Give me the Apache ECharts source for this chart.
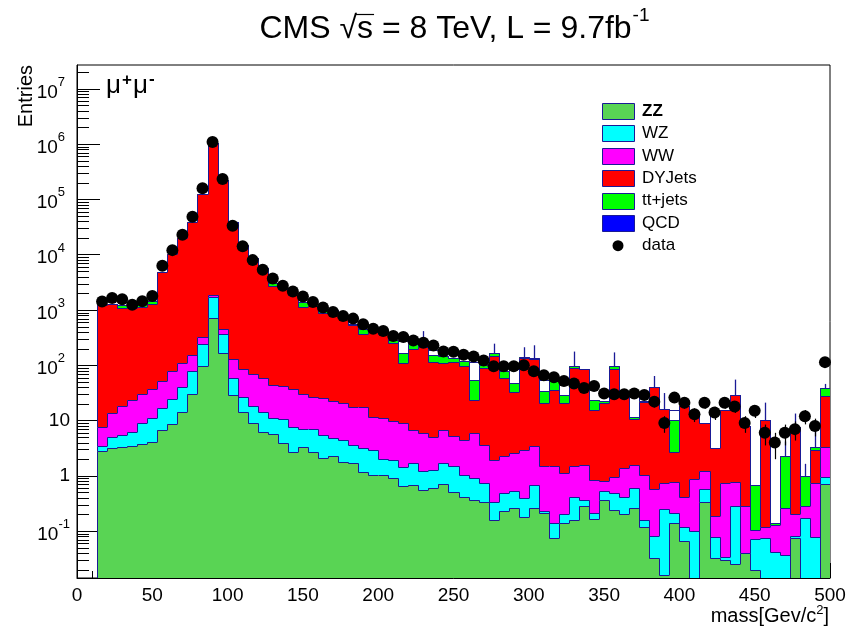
<!DOCTYPE html>
<html>
<head>
<meta charset="utf-8">
<script src="https://cdn.jsdelivr.net/npm/echarts@6/dist/echarts.min.js"></script>
<style>
  html, body { margin: 0; padding: 0; background: #ffffff; }
  #chart { width: 861px; height: 627px; }
</style>
</head>
<body>
<div id="chart"></div>
<script>
// Dimuon invariant mass, 75 bins of 20/3 GeV between 0 and 500; first filled bin is #2.
const BIN_WIDTH = 500 / 75;
const FIRST_BIN = 2;
const Y_MIN = 0.0142;
const Y_MAX = 2.7e7;

// Per-process MC contributions per bin (bins 2..74)
const zz = [2.87,3.25,3.39,3.53,3.79,4.07,6.8,8.6,14.5,30,99,730,170,29,14.5,9.2,6.2,5.75,3.9,2.75,
  3.39,2.75,2.08,2.3,1.81,1.69,1.15,1.04,1.04,0.91,
  0.66,0.69,0.56,0.6,0.72,0.52,0.42,0.37,0.34,0.16,
  0.23,0.26,0.18,0.26,0.21,0.075,0.14,0.16,0.28,0.164,
  0.37,0.24,0.2,0.26,0.117,0.033,0.016,0.138,0.067,0,
  0.33,0.032,0.03,0.025,0.04,0.0197,0,0,0,0.074,
  0,0,0.72];
const wz = [0.66,1.89,2.11,2.77,5.41,6.93,9.9,16.1,25.5,50,145,1010,200,29,12.5,9.2,8.3,5.25,6.7,5.05,
  3.61,4.25,3.42,2.5,2.67,1.95,2.01,1.91,0.96,1.04,
  0.78,1.05,0.64,0.68,0.97,0.96,0.62,0.54,0.4,0.18,
  0.26,0.28,0.21,0.43,0.02,0.065,0.06,0.26,0.09,0.052,
  0.17,0.25,0.22,0.35,0.042,0.048,0.232,0.072,0.053,0.1,
  0.24,0.047,0.004,0.255,0,0.051,0.074,0.042,0.037,0.006,
  0.17,0.079,0.23];
const ww = [3.97,8.46,12.9,17.7,20.8,26,36.3,55.3,70,74,76,110,80,71,59,51.6,43.5,33,32.4,29.2,
  23,20,19.9,18.2,16.7,14.3,14.7,8.85,9,8.05,
  7.56,5.06,4.7,3.86,5.11,3.82,3.44,5.16,2.9,1.61,
  1.81,2.1,2.56,2.8,1.25,1.34,0.92,1.08,1.21,0.634,
  0.28,0.48,0.96,0.97,0.88,0.49,0.51,0.58,0.3,0.77,
  0.63,0.111,0.708,0.49,0.24,0.034,0.046,0.087,0.222,0.12,
  0.116,0.66,2.35];
const dyjets = [1222,1256,1072,1066,1120,1263,4847,10170,19690,39446,125680,1048150,228550,38371,14814,8500,5582,2706,2357,1793,
  1120,1173,846,927,719,517,354,388,359,246,
  102,193,210,110,104,111,91.5,17.9,84.4,144,
  56.7,29.9,134,126.5,19.4,34.9,19.8,88.5,82.4,14.95,
  20.1,83,28.6,9.2,20.4,39.4,15.4,1.86,17.6,11.1,
  7.8,3.0,14.6,28.7,7.57,0,10.28,0,0,7.6,
  0,2.22,25];
const ttjets = [30,30,150,60,120,180,30,50,50,100,100,200,100,80,60,50,50,350,80,50,
  250,60,159,38,19,15,87,20,40,34,
  55,38,6,39,34,20,23,30,12,23,
  19,14.5,3,4,14,15,8.6,9,2,8.2,
  1.4,12,1,0.6,1.6,1,0,7.75,0,0,
  0,0,0,0,0,0.585,0,0.013,1.98,0,
  0.714,0.34,10.7];
const qcd = [0,0,0,0,0,0,0,0,0,0,0,0,0,0,0,0,0,0,0,0,
  0,0,0,0,0,0,0,0,0,0,
  114,0,0,36,0,0,0,61,0,0,
  0,37,0,0,20,0,15.5,0,0,0,
  0,0,0,18.1,0,0,0,5.4,0,0,
  0,12.6,0,0,0,0,0,0,0,0,
  0,0,0];

// MC statistical uncertainty on the full stack (bins 2..74)
const stackErr = [0,0,0,0,0,0,0,0,0,0,0,0,0,0,0,0,0,0,0,0,
  0,0,0,0,0,0,0,0,107,0,
  0,0,193,0,0,0,0,0,0,77,
  0,0,72,96,0,0,0,78,0,0,
  0,75,0,0,0,23,15.3,0,0,0,
  0,0,0,25.6,0,0,10.7,0,1.94,5.6,
  0.65,3.73,7];

// Observed events per bin (bins 2..74)
const observed = [1420,1650,1560,1250,1440,1790,6290,12100,23000,48700,160000,1090000,235000,33500,14200,7980,5320,3720,2750,2150,
  1750,1400,1105,920,778,698,550,459,416,337,
  324,282,256,229,178,176,155,144,122,96,
  96,96,100,78,66,61,52,47,39,42,
  31,30,30,31,29,22,9,26,21,13,
  21,14,21,18,9,15,6,4,6,7,
  12,8,114];

const processNames = ['ZZ', 'WZ', 'WW', 'DYJets', 'tt+jets', 'QCD'];
const processValues = [zz, wz, ww, dyjets, ttjets, qcd];
const processColors = ['#59d454', '#00ffff', '#ff00ff', '#ff0000', '#00ff00', '#0000ff'];
const OUTLINE = '#1a1a96';
const FONT = '"Liberation Sans", Arial, Helvetica, sans-serif';

// Running sums: each layer of the stack is drawn from the axis floor to its cumulative top
const cumulative = [];
processValues.forEach((vals, k) => {
  cumulative.push(vals.map((v, i) => (k > 0 ? cumulative[k - 1][i] : 0) + v));
});
const TOP_LAYER = processNames.length - 1;

function binEdges(i) {
  const b = FIRST_BIN + i;
  return [b * BIN_WIDTH, (b + 1) * BIN_WIDTH];
}

function stackSeries(k) {
  const tops = cumulative[k];
  const data = tops.map((top, i) => {
    const [lo, hi] = binEdges(i);
    const prev = i > 0 ? tops[i - 1] : Y_MIN;
    const err = k === TOP_LAYER ? stackErr[i] : 0;
    return [lo, hi, Math.max(top, Y_MIN), Math.max(prev, Y_MIN), err];
  });
  const fill = processNames[k] === 'QCD' ? null : processColors[k];
  const lastIndex = data.length - 1;
  return {
    type: 'custom',
    name: processNames[k],
    clip: true,
    z: 2,
    encode: { x: [0, 1], y: [2, 3] },
    data: data,
    renderItem: function (params, api) {
      const xl = api.value(0), xr = api.value(1), top = api.value(2), err = api.value(4);
      const a = api.coord([xl, top]);
      const b = api.coord([xr, Y_MIN]);
      const p = api.coord([xl, api.value(3)]);
      const x0 = Math.round(a[0]), x1 = Math.round(b[0]);
      const yt = Math.round(a[1]), yb = Math.round(b[1]), yp = Math.round(p[1]);
      const kids = [];
      if (fill && yb > yt) {
        kids.push({ type: 'rect', shape: { x: x0, y: yt, width: x1 - x0, height: yb - yt },
          style: { fill: fill } });
      }
      const pts = [[x0 + 0.5, yp + 0.5], [x0 + 0.5, yt + 0.5], [x1 + 0.5, yt + 0.5]];
      if (params.dataIndex === lastIndex) pts.push([x1 + 0.5, yb + 0.5]);
      kids.push({ type: 'polyline', shape: { points: pts },
        style: { stroke: OUTLINE, lineWidth: 1, fill: null } });
      if (err > 0) {
        const xc = Math.round((x0 + x1) / 2) + 0.5;
        const up = api.coord([xl, top + err])[1];
        const dn = api.coord([xl, Math.max(top - err, Y_MIN)])[1];
        kids.push({ type: 'line', shape: { x1: xc, y1: up, x2: xc, y2: dn },
          style: { stroke: OUTLINE, lineWidth: 1.3 } });
      }
      return { type: 'group', children: kids };
    }
  };
}

// Minor ticks of the log axis at 2..9 x 10^n
const minorTickValues = [];
for (let e = -2; e <= 7; e++) {
  for (let m = 2; m <= 9; m++) {
    const v = m * Math.pow(10, e);
    if (v > Y_MIN && v < Y_MAX) minorTickValues.push(v);
  }
}

const series = [];
for (let k = TOP_LAYER; k >= 0; k--) series.push(stackSeries(k));

series.push({
  type: 'custom',
  name: 'minorTicks',
  silent: true,
  z: 5,
  clip: false,
  data: minorTickValues.map(v => [0, v]),
  encode: { x: 0, y: 1 },
  renderItem: function (params, api) {
    const p = api.coord([0, api.value(1)]);
    const y = Math.round(p[1]) + 0.5;
    const x = Math.round(p[0]);
    return { type: 'line', shape: { x1: x, y1: y, x2: x + 12, y2: y },
      style: { stroke: '#000', lineWidth: 1 } };
  }
});

const dataPoints = observed.map((v, i) => {
  const [lo, hi] = binEdges(i);
  return [(lo + hi) / 2, v];
});

// Poisson uncertainty of the observed counts
series.push({
  type: 'custom',
  name: 'dataErrors',
  silent: true,
  z: 5,
  clip: true,
  data: dataPoints.map(d => [d[0], d[1], Math.sqrt(d[1])]),
  encode: { x: 0, y: 1 },
  renderItem: function (params, api) {
    const x = api.value(0), v = api.value(1), e = api.value(2);
    const up = api.coord([x, v + e]);
    const dn = api.coord([x, Math.max(v - e, Y_MIN)]);
    const xc = Math.round(up[0]) + 0.5;
    return { type: 'line', shape: { x1: xc, y1: up[1], x2: xc, y2: dn[1] },
      style: { stroke: '#000', lineWidth: 1.2 } };
  }
});

series.push({
  type: 'scatter',
  name: 'data',
  z: 6,
  symbol: 'circle',
  symbolSize: 12,
  itemStyle: { color: '#000', opacity: 1 },
  emphasis: { disabled: true },
  data: dataPoints
});

function supLabel(v) {
  const e = Math.round(Math.log10(v));
  if (e === 0) return '1';
  if (e === 1) return '10';
  return '{b|10}{' + (e < 0 ? 'supn' : 'sup') + '|' + e + '}';
}

// Measure text to place superscripts and the radical bar
const measureCtx = document.createElement('canvas').getContext('2d');
function textWidth(str, size, weight) {
  measureCtx.font = (weight ? weight + ' ' : '') + size + 'px ' + FONT;
  return measureCtx.measureText(str).width;
}
function txt(x, y, text, size, weight, align) {
  return { type: 'text', x: x, y: y,
    style: { text: text, font: (weight ? weight + ' ' : '') + size + 'px ' + FONT, fill: '#000',
      textAlign: align || 'left', textVerticalAlign: 'middle' } };
}

const graphics = [];

// Title: CMS sqrt(s) = 8 TeV, L = 9.7 fb^-1
(function () {
  const size = 32, supSize = 19, mid = 29;
  const parts = ['CMS ', '\u221A', 's', ' = 8 TeV, L = 9.7fb'];
  const widths = parts.map(p => textWidth(p, size));
  const supW = textWidth('-1', supSize);
  const total = widths.reduce((a, b) => a + b, 0) + supW;
  const x = 454 - total / 2;
  graphics.push(txt(x, mid, parts.join(''), size));
  const sx = x + widths[0] + widths[1];
  graphics.push({ type: 'line', shape: { x1: sx - 1, y1: 14.5, x2: sx + widths[2] + 1, y2: 14.5 },
    style: { stroke: '#000', lineWidth: 1.2 } });
  graphics.push(txt(x + widths[0] + widths[1] + widths[2] + widths[3] + 1, 16, '-1', supSize));
})();

// Channel label mu+ mu-
(function () {
  const size = 26, supSize = 17;
  let x = 106;
  const mu = '\u03BC';
  const muW = textWidth(mu, size);
  graphics.push(txt(x, 86, mu, size));
  x += muW + 1;
  graphics.push(txt(x, 80, '+', supSize, 'bold'));
  x += textWidth('+', supSize, 'bold') + 1;
  graphics.push(txt(x, 86, mu, size));
  x += muW + 1;
  graphics.push(txt(x, 79, '-', supSize, 'bold'));
})();

// Axis titles
graphics.push({ type: 'text', x: 26, y: 65, rotation: Math.PI / 2,
  style: { text: 'Entries', font: '20px ' + FONT, fill: '#000', textAlign: 'right', textVerticalAlign: 'middle' } });
(function () {
  const size = 20, supSize = 13;
  const main = 'mass[Gev/c', tail = ']';
  const wMain = textWidth(main, size), wSup = textWidth('2', supSize), wTail = textWidth(tail, size);
  const x = 829 - (wMain + wSup + wTail);
  graphics.push(txt(x, 616, main, size));
  graphics.push(txt(x + wMain, 610, '2', supSize));
  graphics.push(txt(x + wMain + wSup, 616, tail, size));
})();

// Legend
(function () {
  const x0 = 602, yc0 = 111, step = 22.45;
  processNames.forEach((name, k) => {
    const yc = yc0 + step * k;
    graphics.push({ type: 'rect', shape: { x: x0 + 0.5, y: Math.round(yc - 8) + 0.5, width: 32, height: 16 },
      style: { fill: processColors[k], stroke: OUTLINE, lineWidth: 1 } });
    graphics.push(txt(x0 + 40, yc, name, 17, k === 0 ? 'bold' : ''));
  });
  const yd = yc0 + step * 6;
  graphics.push({ type: 'circle', shape: { cx: x0 + 16, cy: yd, r: 5.5 }, style: { fill: '#000' } });
  graphics.push(txt(x0 + 40, yd, 'data', 17));
})();

const chart = echarts.init(document.getElementById('chart'), null, { renderer: 'canvas' });
chart.setOption({
  animation: false,
  backgroundColor: '#ffffff',
  textStyle: { fontFamily: FONT },
  grid: { left: 77, right: 31, top: 65, bottom: 49, containLabel: false, outerBoundsMode: 'none',
    show: true, borderColor: '#000', borderWidth: 1, backgroundColor: 'transparent' },
  xAxis: {
    type: 'value', min: 0, max: 500, interval: 50,
    axisLine: { show: true, lineStyle: { color: '#000', width: 1 } },
    axisTick: { show: true, inside: true, length: 15, lineStyle: { color: '#000' } },
    minorTick: { show: true, splitNumber: 5, length: 7, lineStyle: { color: '#000' } },
    splitLine: { show: false },
    minorSplitLine: { show: false },
    axisLabel: { fontSize: 19, color: '#000', margin: 8, fontFamily: FONT }
  },
  yAxis: {
    type: 'log', logBase: 10, min: Y_MIN, max: Y_MAX, splitNumber: 10,
    axisLine: { show: true, lineStyle: { color: '#000', width: 1 } },
    axisTick: { show: true, inside: true, length: 23, lineStyle: { color: '#000' } },
    minorTick: { show: false },
    splitLine: { show: false },
    axisLabel: {
      fontSize: 19, color: '#000', margin: 7, fontFamily: FONT,
      showMinLabel: false, showMaxLabel: false,
      formatter: supLabel,
      rich: {
        b: { fontSize: 19, lineHeight: 26, verticalAlign: 'bottom', fontFamily: FONT, color: '#000' },
        sup: { fontSize: 13, lineHeight: 26, verticalAlign: 'top', padding: [0, 5, 0, 0], fontFamily: FONT, color: '#000' },
        supn: { fontSize: 13, lineHeight: 26, verticalAlign: 'top', fontFamily: FONT, color: '#000' }
      }
    }
  },
  graphic: graphics,
  series: series
});
</script>
</body>
</html>
